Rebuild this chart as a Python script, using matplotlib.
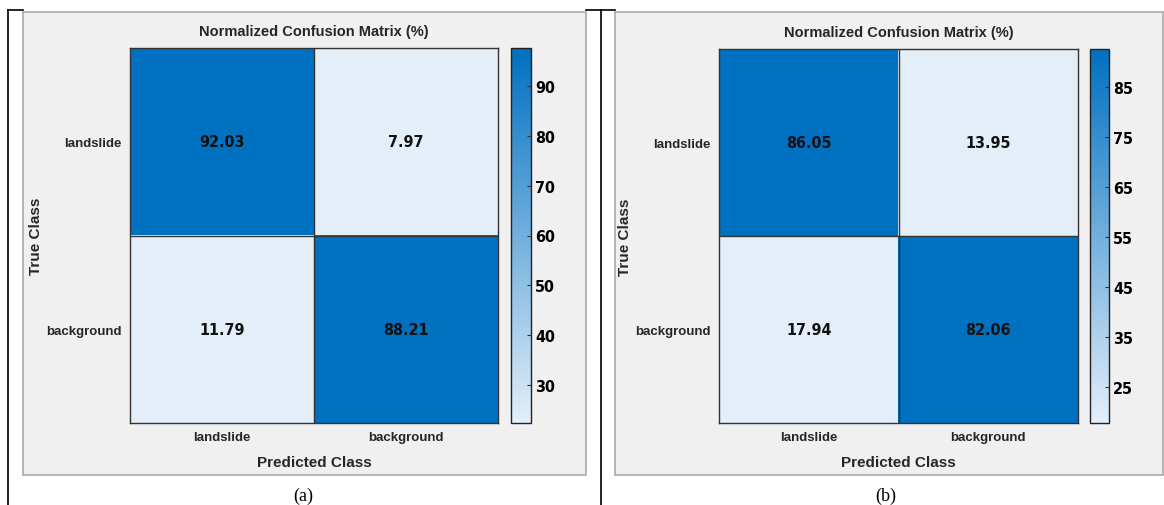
import matplotlib
matplotlib.use("Agg")
import matplotlib.pyplot as plt
from matplotlib.colors import LinearSegmentedColormap, Normalize
from matplotlib.patches import Rectangle
from matplotlib.lines import Line2D
import matplotlib.cm as cm

# Data
classes = ["landslide", "background"]
matrix_a = [[92.03, 7.97], [11.79, 88.21]]
matrix_b = [[86.05, 13.95], [17.94, 82.06]]
cbar_range_a = (22.4, 97.6)
cbar_range_b = (17.7, 92.6)
cbar_ticks_a = [30, 40, 50, 60, 70, 80, 90]
cbar_ticks_b = [25, 35, 45, 55, 65, 75, 85]
panel_labels = ["(a)", "(b)"]
title_text = "Normalized Confusion Matrix (%)"
xlabel_text = "Predicted Class"
ylabel_text = "True Class"

W, H = 1164, 506
fig = plt.figure(figsize=(W / 100, H / 100), dpi=100)
fig.patch.set_facecolor("white")

cmap = LinearSegmentedColormap.from_list("mblue", ["#e3eef9", "#0070c0"])
GREY_BG = "#f0f0f0"
TEXT_DARK = "#262626"
SANS = ["Liberation Sans", "DejaVu Sans"]
NARROW = ["Liberation Sans Narrow", "DejaVu Sans"]


def fx(px):
    return px / W


def fy(py):
    return 1 - py / H


def rect(x0, y0, x1, y1):
    return [fx(x0), fy(y1), fx(x1) - fx(x0), fy(y0) - fy(y1)]


# Page frame lines (table borders around the two figures)
for xs, ys in [([8, 8], [11, 506]), ([8, 23], [11, 11]),
               ([601, 601], [11, 506]), ([586, 615], [11, 11])]:
    fig.add_artist(Line2D([fx(x) for x in xs], [fy(y) for y in ys],
                          transform=fig.transFigure, color="black", lw=1.2))

panels = [
    dict(box=(23, 13, 586, 476), ax=(130, 49, 498, 424), cb=(511, 49, 531, 424),
         data=matrix_a, crange=cbar_range_a, ticks=cbar_ticks_a, label_x=303),
    dict(box=(615, 13, 1163, 476), ax=(719, 50, 1078, 424), cb=(1090, 50, 1109, 424),
         data=matrix_b, crange=cbar_range_b, ticks=cbar_ticks_b, label_x=886),
]

for p, lab in zip(panels, panel_labels):
    x0, y0, x1, y1 = p["box"]
    fig.add_artist(Rectangle((fx(x0), fy(y1)), fx(x1) - fx(x0), fy(y0) - fy(y1),
                             transform=fig.transFigure, facecolor=GREY_BG,
                             edgecolor="#a9a9a9", lw=1.2, zorder=0))

    data = p["data"]
    ax = fig.add_axes(rect(*p["ax"]))
    off = max(data[0][1], data[1][0])
    diag = min(data[0][0], data[1][1])
    ax.imshow(data, cmap=cmap, norm=Normalize(vmin=off, vmax=diag), aspect="auto")
    ax.axhline(0.5, color="#333333", lw=1.0)
    ax.axvline(0.5, color="#333333", lw=1.0)
    for i in range(2):
        for j in range(2):
            ax.text(j, i, f"{data[i][j]:.2f}", ha="center", va="center",
                    family=NARROW, fontstretch="condensed", fontweight="bold",
                    fontsize=11.5, color="#111111")
    ax.set_xticks(range(2))
    ax.set_yticks(range(2))
    ax.set_xticklabels(classes, family=SANS, fontweight="bold", fontsize=9.5, color=TEXT_DARK)
    ax.set_yticklabels(classes, family=SANS, fontweight="bold", fontsize=9.5, color=TEXT_DARK)
    ax.tick_params(length=0, pad=6)
    for s in ax.spines.values():
        s.set_color("#333333")
        s.set_linewidth(1.0)
    ax.set_title(title_text, family=SANS, fontweight="bold", fontsize=10.5,
                 color=TEXT_DARK, pad=9)
    ax.set_xlabel(xlabel_text, family=SANS, fontweight="bold", fontsize=11,
                  color=TEXT_DARK, labelpad=8.5)
    ax.set_ylabel(ylabel_text, family=SANS, fontweight="bold", fontsize=11,
                  color=TEXT_DARK, labelpad=2)

    cax = fig.add_axes(rect(*p["cb"]))
    sm = cm.ScalarMappable(norm=Normalize(*p["crange"]), cmap=cmap)
    cb = fig.colorbar(sm, cax=cax, ticks=p["ticks"])
    cb.outline.set_edgecolor("#222222")
    cb.outline.set_linewidth(1.0)
    cax.tick_params(direction="in", length=3, width=0.8, color="#333333", pad=3)
    for t in cax.get_yticklabels():
        t.set_family(NARROW)
        t.set_fontstretch("condensed")
        t.set_fontweight("bold")
        t.set_fontsize(11.5)
        t.set_color("black")

    fig.text(fx(p["label_x"]), fy(496), lab, ha="center", va="center",
             family=["Liberation Serif", "DejaVu Serif"], fontsize=13, color="black")

fig.savefig("out.png", dpi=100, facecolor="white")
